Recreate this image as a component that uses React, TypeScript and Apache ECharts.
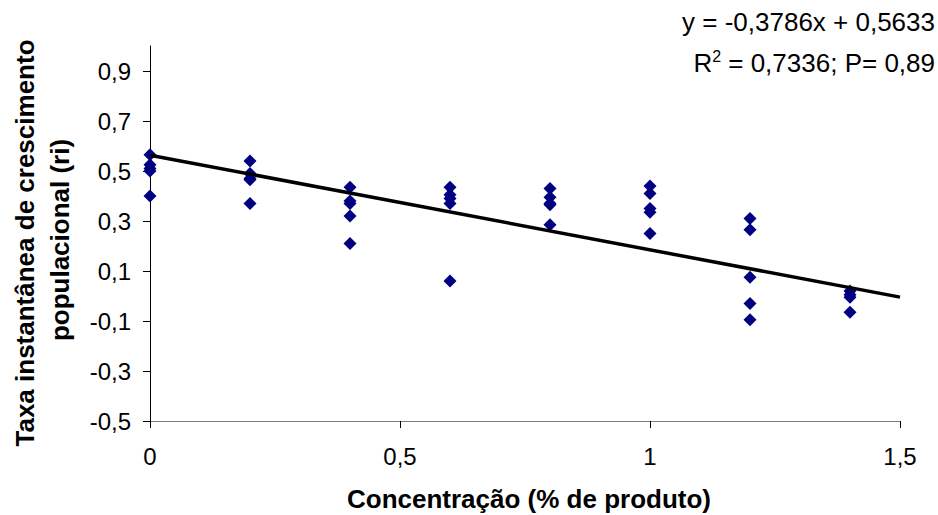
import React, { useEffect, useRef } from "react";
import * as echarts from "echarts";

const concentrations = [0, 0.2, 0.4, 0.6, 0.8, 1.0, 1.2, 1.4];
const rates: number[][] = [
  [0.565, 0.525, 0.51, 0.5, 0.4],
  [0.54, 0.49, 0.47, 0.465, 0.37],
  [0.435, 0.38, 0.37, 0.32, 0.21],
  [0.435, 0.405, 0.39, 0.37, 0.06],
  [0.43, 0.395, 0.37, 0.365, 0.285],
  [0.44, 0.41, 0.35, 0.335, 0.25],
  [0.31, 0.265, 0.075, -0.03, -0.095],
  [0.02, 0.005, -0.005, -0.065],
];
const slope = -0.3786;
const intercept = 0.5633;
const trendX = [0, 1.5];
const yTicks = [-0.5, -0.3, -0.1, 0.1, 0.3, 0.5, 0.7, 0.9];
const xTicks = [0, 0.5, 1, 1.5];

const fmt = (v: number) => {
  const r = Math.round(v * 10) / 10;
  return String(r).replace(".", ",");
};

export default function App() {
  const ref = useRef<HTMLDivElement>(null);
  useEffect(() => {
    if (!ref.current) return;
    const chart = echarts.init(ref.current, undefined, { renderer: "svg" });
    const points: number[][] = [];
    concentrations.forEach((c, i) => rates[i].forEach((r) => points.push([c, r])));
    const trend = trendX.map((x) => [x, slope * x + intercept]);
    const font = "Arial, 'Liberation Sans', sans-serif";
    chart.setOption({
      animation: false,
      backgroundColor: "#ffffff",
      grid: { left: 150, right: 38, top: 46, bottom: 94, containLabel: false },
      xAxis: {
        type: "value",
        min: 0,
        max: 1.5,
        interval: 0.5,
        splitLine: { show: false },
        axisLine: { onZero: false, lineStyle: { color: "#808080", width: 1 } },
        axisTick: { show: true, length: 7, inside: false, customValues: xTicks, lineStyle: { color: "#000" } },
        axisLabel: {
          customValues: xTicks,
          formatter: (v: number) => fmt(v),
          color: "#000",
          fontSize: 24,
          fontFamily: font,
          margin: 23,
        },
      },
      yAxis: {
        type: "value",
        min: -0.5,
        max: 1.0,
        splitLine: { show: false },
        axisLine: { onZero: false, lineStyle: { color: "#000", width: 1 } },
        axisTick: { show: true, length: 7, customValues: yTicks, lineStyle: { color: "#000" } },
        axisLabel: {
          customValues: yTicks,
          formatter: (v: number) => fmt(v),
          color: "#000",
          fontSize: 24,
          fontFamily: font,
          margin: 19,
        },
      },
      series: [
        {
          type: "scatter",
          data: points,
          symbol: "diamond",
          symbolSize: 13,
          itemStyle: { color: "#000080", opacity: 1 },
          z: 3,
        },
        {
          type: "line",
          data: trend,
          symbol: "none",
          lineStyle: { color: "#000", width: 3.5 },
          z: 4,
        },
      ],
      graphic: [
        {
          type: "text",
          x: 25,
          y: 243,
          rotation: Math.PI / 2,
          style: {
            text: "Taxa instantânea de crescimento",
            fontSize: 26,
            fontWeight: "bold",
            fontFamily: font,
            fill: "#000",
            align: "center",
            verticalAlign: "middle",
          },
        },
        {
          type: "text",
          x: 60,
          y: 240,
          rotation: Math.PI / 2,
          style: {
            text: "populacional (ri)",
            fontSize: 26,
            fontWeight: "bold",
            fontFamily: font,
            fill: "#000",
            align: "center",
            verticalAlign: "middle",
          },
        },
        {
          type: "text",
          x: 529,
          y: 499,
          style: {
            text: "Concentração (% de produto)",
            fontSize: 26,
            fontWeight: "bold",
            fontFamily: font,
            fill: "#000",
            align: "center",
            verticalAlign: "middle",
          },
        },
        {
          type: "text",
          x: 935,
          y: 22,
          style: {
            text: "y = -0,3786x + 0,5633",
            fontSize: 26,
            fontFamily: font,
            fill: "#000",
            align: "right",
            verticalAlign: "middle",
          },
        },
        {
          type: "text",
          x: 935,
          y: 62,
          style: {
            text: "{a|R}{s|2}{a| = 0,7336; P= 0,89}",
            fontFamily: font,
            fill: "#000",
            align: "right",
            verticalAlign: "middle",
            rich: {
              a: { fontSize: 26, fontFamily: font, fill: "#000", lineHeight: 28, verticalAlign: "bottom" },
              s: { fontSize: 16, fontFamily: font, fill: "#000", lineHeight: 28, verticalAlign: "top", padding: [0, 0, 12, 0] },
            },
          },
        },
      ],
    });
    return () => chart.dispose();
  }, []);
  return (
    <div
      ref={ref}
      style={{ position: "absolute", left: 0, top: 0, width: 938, height: 515, overflow: "hidden" }}
    />
  );
}
